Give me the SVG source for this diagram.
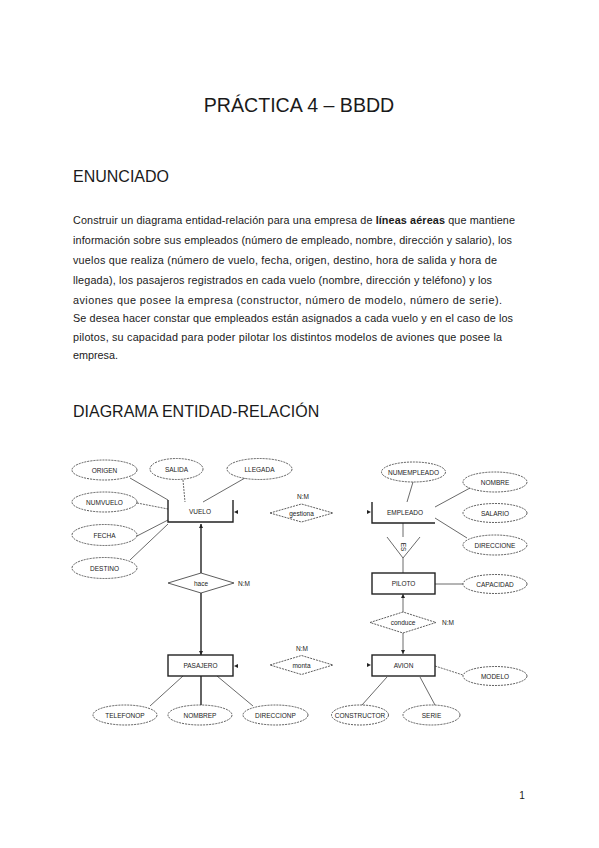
<svg xmlns="http://www.w3.org/2000/svg" width="599" height="848" viewBox="0 0 599 848">
<style>
.t{font-family:"Liberation Sans",Arial,sans-serif;fill:#1a1a1a}
.lbl{font-family:"Liberation Sans",Arial,sans-serif;font-size:6.5px;fill:#222;text-anchor:middle;dominant-baseline:central}
.att{fill:#fff;stroke:#333;stroke-width:0.8;stroke-dasharray:2 1}
.rel{fill:#fff;stroke:#333;stroke-width:0.8;stroke-dasharray:2 1}
.rels{fill:#fff;stroke:#333;stroke-width:0.8}
.ent{fill:#fff;stroke:#222;stroke-width:1.4}
.edge{stroke:#222;stroke-width:1.4;fill:none}
.ln{stroke:#444;stroke-width:0.8;fill:none}
.lnd{stroke:#444;stroke-width:0.8;fill:none;stroke-dasharray:2 1}
.ah{fill:#222}
</style>
<rect width="599" height="848" fill="#fff"/>
<text class="t" x="299" y="112" font-size="19.6" text-anchor="middle">PRÁCTICA 4 – BBDD</text>
<text class="t" x="73" y="182" font-size="16">ENUNCIADO</text>
<g class="t" font-size="10.8">
<text x="73" y="224" textLength="442">Construir un diagrama entidad-relación para una empresa de <tspan font-weight="bold">líneas aéreas</tspan> que mantiene</text>
<text x="73" y="244" textLength="439">información sobre sus empleados (número de empleado, nombre, dirección y salario), los</text>
<text x="73" y="264" textLength="424">vuelos que realiza (número de vuelo, fecha, origen, destino, hora de salida y hora de</text>
<text x="73" y="284" textLength="419">llegada), los pasajeros registrados en cada vuelo (nombre, dirección y teléfono) y los</text>
<text x="73" y="304" textLength="429">aviones que posee la empresa (constructor, número de modelo, número de serie).</text>
<text x="73" y="322" textLength="440">Se desea hacer constar que empleados están asignados a cada vuelo y en el caso de los</text>
<text x="73" y="341" textLength="429">pilotos, su capacidad para poder pilotar los distintos modelos de aviones que posee la</text>
<text x="73" y="359" textLength="45">empresa.</text>
</g>
<text class="t" x="73" y="417" font-size="16">DIAGRAMA ENTIDAD-RELACIÓN</text>
<text class="t" x="522" y="799" font-size="10" text-anchor="middle">1</text>

<g id="connectors">
<line class="ln" x1="130" y1="478" x2="168" y2="500"/>
<line class="lnd" x1="137" y1="503" x2="168" y2="509"/>
<line class="ln" x1="137" y1="536" x2="168" y2="520"/>
<line class="ln" x1="130" y1="560" x2="168" y2="524"/>
<line class="lnd" x1="183" y1="480" x2="185" y2="502"/>
<line class="ln" x1="245" y1="478" x2="203" y2="502"/>
<line class="edge" x1="201" y1="524" x2="201" y2="573"/>
<line class="edge" x1="201" y1="593" x2="201" y2="655"/>
<line class="ln" x1="183" y1="676" x2="150" y2="706"/>
<line class="edge" x1="201" y1="676" x2="201" y2="705"/>
<line class="ln" x1="217" y1="676" x2="253" y2="706"/>
<line class="ln" x1="413" y1="482" x2="407" y2="502"/>
<line class="ln" x1="470" y1="488" x2="435" y2="507"/>
<line class="ln" x1="435" y1="518" x2="467" y2="538"/>
<line class="ln" x1="403" y1="523" x2="403" y2="537"/>
<line class="ln" x1="403" y1="558" x2="403" y2="573"/>
<line class="ln" x1="435" y1="584" x2="463" y2="584"/>
<line class="ln" x1="403" y1="594" x2="403" y2="612"/>
<line class="ln" x1="403" y1="633" x2="403" y2="654"/>
<line class="lnd" x1="435" y1="666" x2="463" y2="675"/>
<line class="ln" x1="387" y1="677" x2="362" y2="705"/>
<line class="ln" x1="420" y1="677" x2="435" y2="705"/>
<path class="ah" d="M201,524 l-2,4 h4 z"/>
<path class="ah" d="M201,655 l-2,-4 h4 z"/>
<path class="ah" d="M234,512 l4,-2 v4 z"/>
<path class="ah" d="M234,666 l4,-2 v4 z"/>
<path class="ah" d="M371,512 l-4,-2 v4 z"/>
<path class="ah" d="M371,665 l-4,-2 v4 z"/>
<path class="ah" d="M403,594 l-2,4 h4 z"/>
<path class="ah" d="M403,654 l-2,-4 h4 z"/>
</g>

<g id="VUELO">
<path class="edge" d="M168,500 V522 H233 V500"/>
<text class="lbl" x="200" y="511">VUELO</text>
</g>
<g id="ORIGEN"><ellipse class="att" cx="104.5" cy="470" rx="32.5" ry="10"/><text class="lbl" x="104.5" y="470">ORIGEN</text></g>
<g id="SALIDA"><ellipse class="att" cx="176.5" cy="469" rx="26.5" ry="10.5"/><text class="lbl" x="176.5" y="469">SALIDA</text></g>
<g id="LLEGADA"><ellipse class="att" cx="259.5" cy="469" rx="32.5" ry="10.5"/><text class="lbl" x="259.5" y="469">LLEGADA</text></g>
<g id="NUMVUELO"><ellipse class="att" cx="104.5" cy="502" rx="32.5" ry="10"/><text class="lbl" x="104.5" y="502">NUMVUELO</text></g>
<g id="FECHA"><ellipse class="att" cx="104.5" cy="535" rx="32.5" ry="10.5"/><text class="lbl" x="104.5" y="535">FECHA</text></g>
<g id="DESTINO"><ellipse class="att" cx="104.5" cy="568" rx="32.5" ry="10.5"/><text class="lbl" x="104.5" y="568">DESTINO</text></g>

<g id="hace"><path class="rels" d="M168,583 L201,573 L234,583 L201,593 Z"/><text class="lbl" x="201" y="583">hace</text><text class="lbl" x="244" y="583">N:M</text></g>

<g id="PASAJERO"><rect class="ent" x="168" y="655" width="65" height="21"/><text class="lbl" x="200.5" y="665.5">PASAJERO</text></g>
<g id="TELEFONOP"><ellipse class="att" cx="125" cy="715" rx="32" ry="10"/><text class="lbl" x="125" y="715">TELEFONOP</text></g>
<g id="NOMBREP"><ellipse class="att" cx="200" cy="715" rx="32" ry="10"/><text class="lbl" x="200" y="715">NOMBREP</text></g>
<g id="DIRECCIONP"><ellipse class="att" cx="275.5" cy="715" rx="32.5" ry="10"/><text class="lbl" x="275.5" y="715">DIRECCIONP</text></g>

<g id="gestiona"><path class="rel" d="M270,513 L301.5,504 L333,513 L301.5,522 Z"/><text class="lbl" x="301.5" y="513">gestiona</text><text class="lbl" x="303" y="496">N:M</text></g>
<g id="monta"><path class="rel" d="M270,665 L301.5,655.5 L333,665 L301.5,674.5 Z"/><text class="lbl" x="301.5" y="665">monta</text><text class="lbl" x="302" y="648">N:M</text></g>

<g id="EMPLEADO"><path class="edge" d="M372,502 V523 H435"/><text class="lbl" x="405" y="512">EMPLEADO</text></g>
<g id="NUMEMPLEADO"><ellipse class="att" cx="413.5" cy="472" rx="32" ry="10"/><text class="lbl" x="413.5" y="472">NUMEMPLEADO</text></g>
<g id="NOMBRE"><ellipse class="att" cx="495" cy="482" rx="32" ry="10"/><text class="lbl" x="495" y="482">NOMBRE</text></g>
<g id="SALARIO"><ellipse class="att" cx="495" cy="513" rx="32" ry="9.5"/><text class="lbl" x="495" y="513">SALARIO</text></g>
<g id="DIRECCIONE"><ellipse class="att" cx="495" cy="545" rx="32" ry="10"/><text class="lbl" x="495" y="545">DIRECCIONE</text></g>

<g id="ES"><path class="ln" d="M387,537 L403,558 L420,537"/><text class="lbl" x="403" y="547" transform="rotate(90 403 547)" font-size="5.5">ES</text></g>

<g id="PILOTO"><rect class="ent" x="372" y="573" width="63" height="21"/><text class="lbl" x="403.5" y="583.5">PILOTO</text></g>
<g id="CAPACIDAD"><ellipse class="att" cx="495" cy="584" rx="32" ry="9.5"/><text class="lbl" x="495" y="584">CAPACIDAD</text></g>

<g id="conduce"><path class="rel" d="M370,622.5 L403,612 L436,622.5 L403,633 Z"/><text class="lbl" x="403" y="622.5" font-size="5.5">conduce</text><text class="lbl" x="448" y="622">N:M</text></g>

<g id="AVION"><rect class="ent" x="372" y="655" width="63" height="21"/><text class="lbl" x="403.5" y="665">AVION</text></g>
<g id="MODELO"><ellipse class="att" cx="495" cy="676" rx="32" ry="9.5"/><text class="lbl" x="495" y="676">MODELO</text></g>
<g id="CONSTRUCTOR"><ellipse class="att" cx="360" cy="715" rx="28.5" ry="10"/><text class="lbl" x="360" y="715">CONSTRUCTOR</text></g>
<g id="SERIE"><ellipse class="att" cx="431.5" cy="715" rx="28.5" ry="10"/><text class="lbl" x="431.5" y="715">SERIE</text></g>
</svg>
